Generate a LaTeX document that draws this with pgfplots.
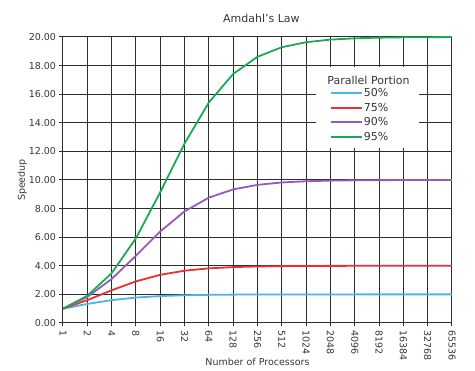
\documentclass[border=0pt]{standalone}
\usepackage{pgfplots}
\pgfplotsset{compat=1.18}
\usepackage{fontspec}
\setmainfont{DejaVu Sans}
\definecolor{cblue}{RGB}{75,180,232}
\definecolor{cred}{RGB}{240,45,50}
\definecolor{cpurple}{RGB}{150,90,190}
\definecolor{cgreen}{RGB}{25,170,85}
\definecolor{tgray}{RGB}{55,55,55}
\definecolor{ggray}{RGB}{45,45,45}
\begin{document}
\begin{tikzpicture}
\path[use as bounding box] (-63pt,-48pt) rectangle (412pt,323pt);
\begin{axis}[
  at={(0pt,0pt)}, anchor=south west,
  scale only axis, width=389pt, height=286pt,
  xmin=0, xmax=16, ymin=0, ymax=20,
  xtick={0,...,16},
  xticklabels={1,2,4,8,16,32,64,128,256,512,1024,2048,4096,8192,16384,32768,65536},
  ytick={0,2,...,20},
  y tick label style={/pgf/number format/.cd, fixed, fixed zerofill, precision=2, /tikz/.cd},
  /pgf/number format/assume math mode=true,
  grid=major,
  grid style={ggray, line width=1pt},
  axis line style={ggray, line width=1pt},
  tick align=outside, tick pos=left,
  major tick length=3.5pt,
  tick style={ggray, line width=1pt},
  xticklabel style={rotate=-90, anchor=west, font=\fontsize{9.5}{11}\selectfont, text=tgray},
  yticklabel style={font=\fontsize{9.5}{11}\selectfont, text=tgray},
  title={Amdahl's Law},
  title style={font=\fontsize{11}{13}\selectfont, text=tgray, at={(axis description cs:0.51,1)}, anchor=south, yshift=5pt},
  xlabel={Number of Processors},
  xlabel style={font=\fontsize{9.5}{11}\selectfont, text=tgray, at={(axis description cs:0.5,-0.136)}, anchor=center},
  ylabel={Speedup},
  ylabel style={font=\fontsize{9.5}{11}\selectfont, text=tgray, at={(axis description cs:-0.105,0.5)}, anchor=center},
  legend style={at={(axis description cs:0.685,0.826)}, anchor=north west, draw=none, fill=none,
    font=\fontsize{11}{12}\selectfont, text=tgray, row sep=1.8pt, inner sep=0pt,
    nodes={inner ysep=1.5pt, inner xsep=1.5pt}},
  legend cell align=left,
  legend image code/.code={\draw[#1] (0pt,0pt) -- (24pt,0pt); \path (24pt,0pt) -- (31pt,0pt);},
  every axis plot/.append style={line width=1.8pt},
]
\fill[white] (axis description cs:0.6504,0.6119) rectangle (axis description cs:0.9152,0.8951);
\node[font=\fontsize{11}{12}\selectfont, text=tgray] at (axis description cs:0.7854,0.847) {Parallel Portion};
\addplot[cblue] coordinates {(0,1) (1,1.3333) (2,1.6) (3,1.7778) (4,1.8824) (5,1.9394) (6,1.9692) (7,1.9845) (8,1.9922) (9,1.9961) (10,1.9980) (11,1.9990) (12,1.9995) (13,1.9998) (14,1.9999) (15,1.99994) (16,1.99997)};
\addlegendentry{50\%}
\addplot[cred] coordinates {(0,1) (1,1.6) (2,2.2857) (3,2.9091) (4,3.3684) (5,3.6571) (6,3.8209) (7,3.9084) (8,3.9537) (9,3.9767) (10,3.9883) (11,3.9941) (12,3.9971) (13,3.9985) (14,3.9993) (15,3.9996) (16,3.9998)};
\addlegendentry{75\%}
\addplot[cpurple] coordinates {(0,1) (1,1.8182) (2,3.0769) (3,4.7059) (4,6.4) (5,7.8049) (6,8.7671) (7,9.3431) (8,9.6604) (9,9.8273) (10,9.9129) (11,9.9562) (12,9.9781) (13,9.9890) (14,9.9945) (15,9.9973) (16,9.9986)};
\addlegendentry{90\%}
\addplot[cgreen] coordinates {(0,1) (1,1.9048) (2,3.4783) (3,5.9259) (4,9.1429) (5,12.549) (6,15.422) (7,17.415) (8,18.618) (9,19.284) (10,19.636) (11,19.816) (12,19.908) (13,19.954) (14,19.977) (15,19.988) (16,19.994)};
\addlegendentry{95\%}
\end{axis}
\end{tikzpicture}
\end{document}
